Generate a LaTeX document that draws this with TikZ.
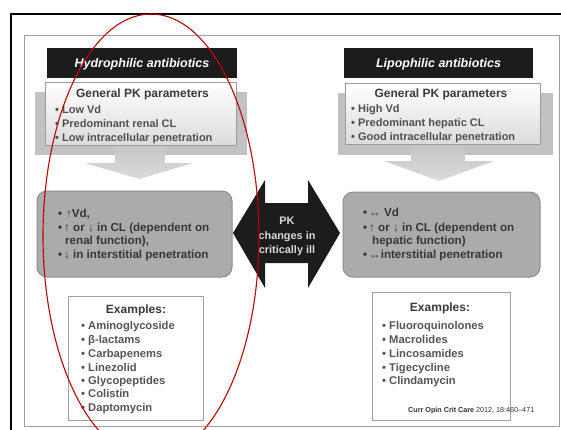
\documentclass[tikz,border=0pt]{standalone}
\usepackage{fontspec}
\setmainfont{Liberation Sans}
\usetikzlibrary{shadings}
\definecolor{frameg}{HTML}{A0A0A0}
\definecolor{hdrbg}{HTML}{1C1C1C}
\definecolor{shadowg}{HTML}{C2C2C2}
\definecolor{pkborder}{HTML}{9C9C9C}
\definecolor{pkhead}{HTML}{3A3A3A}
\definecolor{pktext}{HTML}{505050}
\definecolor{boxfill}{HTML}{ABABAB}
\definecolor{boxborder}{HTML}{8C8C8C}
\definecolor{boxtext}{HTML}{363636}
\definecolor{extext}{HTML}{555555}
\definecolor{ellred}{HTML}{C00000}
\definecolor{arrtext}{HTML}{D8D8D8}
\begin{document}
\begin{tikzpicture}[x=1pt,y=-1pt,
  hdrtxt/.style={text=white,font=\fontsize{12.5}{15}\selectfont\bfseries\itshape,anchor=base,inner sep=0},
  pkhtxt/.style={text=pkhead,font=\fontsize{12}{14}\selectfont\bfseries,anchor=base,inner sep=0},
  pktxt/.style={text=pktext,font=\fontsize{11}{14}\selectfont\bfseries,anchor=base west,inner sep=0},
  gbtxt/.style={text=boxtext,font=\fontsize{11.6}{14}\selectfont\bfseries,anchor=base west,inner sep=0},
  exhtxt/.style={text=pkhead,font=\fontsize{12}{14}\selectfont\bfseries,anchor=base,inner sep=0},
  extxt/.style={text=extext,font=\fontsize{11.2}{14}\selectfont\bfseries,anchor=base west,inner sep=0},
  ctrtxt/.style={text=arrtext,font=\fontsize{10.9}{13}\selectfont\bfseries,anchor=base,inner sep=0},
  hdrbox/.style={fill=hdrbg,draw=none},
  pkbox/.style={draw=pkborder,line width=0.8pt,top color=white,bottom color=black!14},
  shadowbox/.style={fill=shadowg,draw=none},
  downarrow/.style={top color=black!24,bottom color=black!14,draw=none},
  graybox/.style={fill=boxfill,draw=boxborder,line width=1pt,rounded corners=10pt},
  exbox/.style={fill=white,draw=frameg,line width=1pt}
]
\useasboundingbox (0,0) rectangle (561,429);
\fill[white] (0,0) rectangle (561,429);
% frames
\draw[frameg,line width=1pt] (24,35) rectangle (559,426);
\draw[black,line width=2.6pt] (11,432) -- (11,14) -- (565,14);
% headers
\fill[hdrbox] (47,48) rectangle (237,78);
\fill[hdrbox] (344,48) rectangle (533,78);
\node[hdrtxt] (hL) at (142,67.5) {Hydrophilic antibiotics};
\node[hdrtxt] (hR) at (438.5,67.5) {Lipophilic antibiotics};
% shadows
\fill[shadowbox] (35,92) rectangle (247,155);
\fill[shadowbox] (338,93) rectangle (553,155);
% down arrows
\shade[downarrow] (115,140) -- (165,140) -- (165,163) -- (193,163) -- (139,179) -- (85,163) -- (115,163) -- cycle;
\shade[downarrow] (411,140) -- (465,140) -- (465,161) -- (494,161) -- (439,181) -- (384,161) -- (411,161) -- cycle;
% PK boxes
\draw[pkbox] (45,82) rectangle (236,145);
\draw[pkbox] (345,83) rectangle (540,144);
\node[pkhtxt] (pkhL) at (142.5,97.3) {General PK parameters};
\node[pktxt] (pkL1) at (55,113) {• Low Vd};
\node[pktxt] (pkL2) at (55,127) {• Predominant renal CL};
\node[pktxt] (pkL3) at (55,141) {• Low intracellular penetration};
\node[pkhtxt] (pkhR) at (441,97.3) {General PK parameters};
\node[pktxt] (pkR1) at (351,112) {• High Vd};
\node[pktxt] (pkR2) at (351,126) {• Predominant hepatic CL};
\node[pktxt] (pkR3) at (351,140) {• Good intracellular penetration};
% gray boxes
\draw[graybox] (37,191) rectangle (232,277);
\draw[graybox] (343,192) rectangle (540,277);
\node[gbtxt] (gL1) at (58,217) {•\,\,↑Vd,};
\node[gbtxt] (gL2) at (58,231) {•\,↑ or ↓ in CL (dependent on};
\node[gbtxt] (gL3) at (65,244) {renal function),};
\node[gbtxt] (gL4) at (58,258) {•\,↓ in interstitial penetration};
\node[gbtxt] (gR1) at (363,216) {•\,↔ Vd};
\node[gbtxt] (gR2) at (363,231) {•\,↑ or ↓ in CL (dependent on};
\node[gbtxt] (gR3) at (372,244) {hepatic function)};
\node[gbtxt] (gR4) at (363,258) {•\,↔interstitial penetration};
% center double arrow
\fill[hdrbg] (233,233) -- (265,180) -- (265,203) -- (308,203) -- (308,180) -- (340,233) -- (308,288) -- (308,263) -- (265,263) -- (265,288) -- cycle;
\node[ctrtxt] (c1) at (287,224) {PK};
\node[ctrtxt] (c2) at (287,239) {changes in};
\node[ctrtxt] (c3) at (287,253) {critically ill};
% examples boxes
\draw[exbox] (68,296) rectangle (203,420);
\draw[exbox] (372,292) rectangle (510,420);
\node[exhtxt] (exhL) at (136,313.3) {Examples:};
\node[extxt] (exL1) at (81,329) {• Aminoglycoside};
\node[extxt] (exL2) at (81,343) {• β-lactams};
\node[extxt] (exL3) at (81,357) {• Carbapenems};
\node[extxt] (exL4) at (81,371) {• Linezolid};
\node[extxt] (exL5) at (81,384) {• Glycopeptides};
\node[extxt] (exL6) at (81,397) {• Colistin};
\node[extxt] (exL7) at (81,411) {• Daptomycin};
\node[exhtxt] (exhR) at (440,311.3) {Examples:};
\node[extxt] (exR1) at (382,329) {• Fluoroquinolones};
\node[extxt] (exR2) at (382,343) {• Macrolides};
\node[extxt] (exR3) at (382,357) {• Lincosamides};
\node[extxt] (exR4) at (382,371) {• Tigecycline};
\node[extxt] (exR5) at (382,384) {• Clindamycin};
\node[anchor=base west,inner sep=0,text=black!80,font=\fontsize{7.2}{9}\selectfont] (cite) at (408,412.5) {\textbf{Curr Opin Crit Care} 2012, 18:460–471};
% red ellipse
\draw[ellred,line width=1.1pt] (151,236) ellipse [x radius=108,y radius=222];
\end{tikzpicture}
\end{document}
